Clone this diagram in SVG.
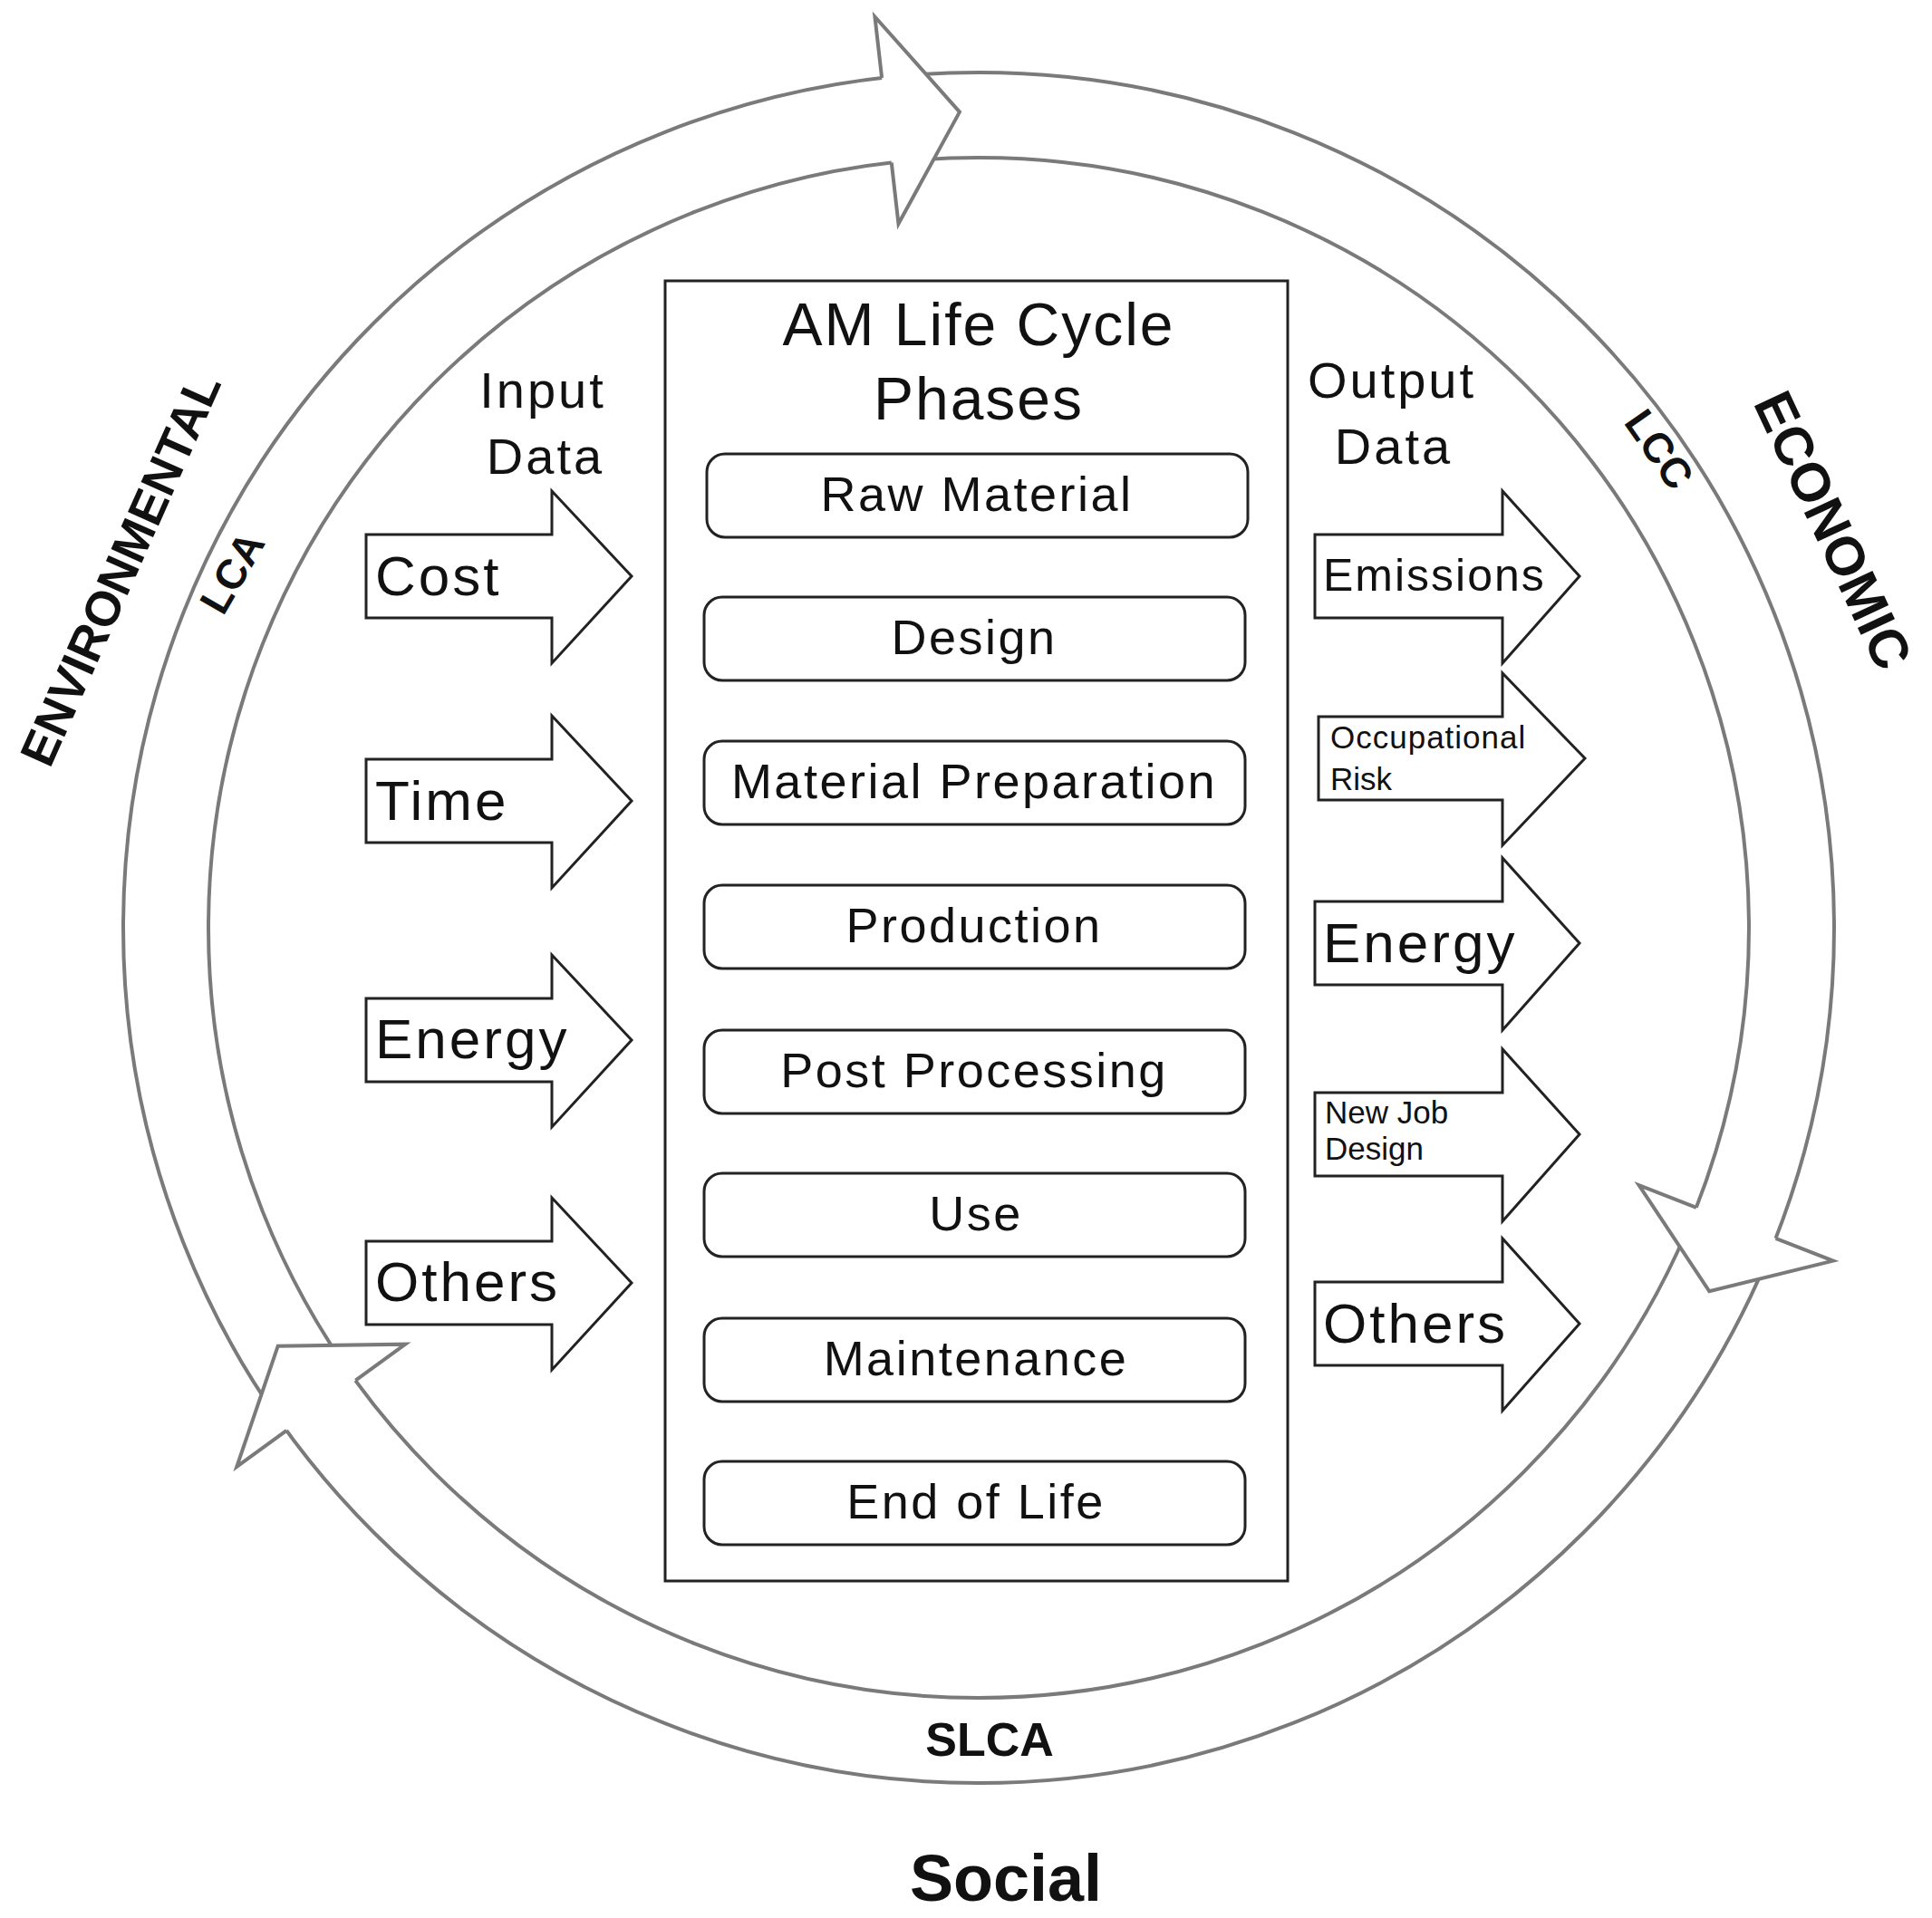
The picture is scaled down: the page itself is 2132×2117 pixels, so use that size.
<svg xmlns="http://www.w3.org/2000/svg" width="2132" height="2117" viewBox="0 0 2132 2117">
<style>
.ring{fill:none;stroke:#7a7a7a;stroke-width:4}
.hf{fill:#fff;stroke:none}
.hl{fill:none;stroke:#7a7a7a;stroke-width:4;stroke-linejoin:miter}
.box{fill:#fff;stroke:#222;stroke-width:3}
.ph{fill:#fff;stroke:#222;stroke-width:3}
.arr{fill:#fff;stroke:#222;stroke-width:3;stroke-linejoin:miter}
text{font-family:"Liberation Sans",Arial,sans-serif;fill:#111}
.pt{font-size:54px;text-anchor:middle;letter-spacing:2.5px}
.big{font-size:62px;letter-spacing:3px}
.sm{font-size:35px}
.lab{font-size:56px;text-anchor:middle;letter-spacing:3px}
.b{font-weight:bold;text-anchor:middle}
</style>
<defs>
<g id="head">
<polygon class="hf" points="0,-1012 81,-897 0,-782"/>
<polyline class="hl" points="0,-944 0,-1012 81,-897 0,-782 0,-850"/>
</g>
</defs>
<rect width="2132" height="2117" fill="#fff"/>
<g id="connectors">
<circle class="ring" cx="1080" cy="1024" r="944"/>
<circle class="ring" cx="1080" cy="1024" r="850"/>
<use href="#head" transform="translate(1080,1024) rotate(-6.5)"/>
<use href="#head" transform="translate(1080,1024) rotate(111.3)"/>
<use href="#head" transform="translate(1080,1024) rotate(234)"/>
</g>
<g id="labels">
<text class="b" font-size="54" transform="translate(150,636) rotate(-66)">ENVIRONMENTAL</text>
<text class="b" font-size="46" transform="translate(270,640) rotate(-60)">LCA</text>
<text class="b" font-size="60" transform="translate(2004,594) rotate(65)">ECONOMIC</text>
<text class="b" font-size="46" transform="translate(1818,505) rotate(55)">LCC</text>
<text class="b" font-size="52" x="1092" y="1938">SLCA</text>
<text class="b" font-size="72" x="1110" y="2098">Social</text>
<text class="lab" x="599" y="450">Input</text>
<text class="lab" x="602" y="523">Data</text>
<text class="lab" x="1536" y="439">Output</text>
<text class="lab" x="1538" y="512">Data</text>
</g>
<g id="lifecycle">
<rect class="box" x="734" y="310" width="687" height="1435"/>
<text x="1080" y="381" font-size="66" text-anchor="middle" letter-spacing="2">AM Life Cycle</text>
<text x="1080" y="463" font-size="66" text-anchor="middle" letter-spacing="2">Phases</text>
</g>
<g id="p1"><rect class="ph" x="780" y="501" width="597" height="92" rx="20"/><text class="pt" x="1078" y="564">Raw Material</text></g>
<g id="p2"><rect class="ph" x="777" y="659" width="597" height="92" rx="20"/><text class="pt" x="1075" y="722">Design</text></g>
<g id="p3"><rect class="ph" x="777" y="818" width="597" height="92" rx="20"/><text class="pt" x="1075" y="881">Material Preparation</text></g>
<g id="p4"><rect class="ph" x="777" y="977" width="597" height="92" rx="20"/><text class="pt" x="1075" y="1040">Production</text></g>
<g id="p5"><rect class="ph" x="777" y="1137" width="597" height="92" rx="20"/><text class="pt" x="1075" y="1200">Post Processing</text></g>
<g id="p6"><rect class="ph" x="777" y="1295" width="597" height="92" rx="20"/><text class="pt" x="1077" y="1358">Use</text></g>
<g id="p7"><rect class="ph" x="777" y="1455" width="597" height="92" rx="20"/><text class="pt" x="1077" y="1518">Maintenance</text></g>
<g id="p8"><rect class="ph" x="777" y="1613" width="597" height="92" rx="20"/><text class="pt" x="1077" y="1676">End of Life</text></g>
<g id="in-cost"><polygon class="arr" points="404,590 609,590 609,542 697,636 609,732 609,682 404,682"/><text class="big" x="414" y="657">Cost</text></g>
<g id="in-time"><polygon class="arr" points="404,838 609,838 609,790 697,884 609,980 609,930 404,930"/><text class="big" x="414" y="905">Time</text></g>
<g id="in-energy"><polygon class="arr" points="404,1102 609,1102 609,1054 697,1148 609,1244 609,1194 404,1194"/><text class="big" x="414" y="1168">Energy</text></g>
<g id="in-others"><polygon class="arr" points="404,1370 609,1370 609,1322 697,1416 609,1512 609,1462 404,1462"/><text class="big" x="414" y="1436">Others</text></g>
<g id="out-emissions"><polygon class="arr" points="1451,590 1658,590 1658,542 1743,636 1658,732 1658,682 1451,682"/><text x="1460" y="652" font-size="50" letter-spacing="2">Emissions</text></g>
<g id="out-risk"><polygon class="arr" points="1455,791 1658,791 1658,743 1749,837 1658,933 1658,883 1455,883"/><text class="sm" x="1468" y="826" letter-spacing="1">Occupational</text><text class="sm" x="1468" y="872">Risk</text></g>
<g id="out-energy"><polygon class="arr" points="1451,995 1658,995 1658,947 1743,1041 1658,1137 1658,1087 1451,1087"/><text class="big" x="1460" y="1062">Energy</text></g>
<g id="out-job"><polygon class="arr" points="1451,1206 1658,1206 1658,1158 1743,1252 1658,1348 1658,1298 1451,1298"/><text class="sm" x="1462" y="1240">New Job</text><text class="sm" x="1462" y="1280">Design</text></g>
<g id="out-others"><polygon class="arr" points="1451,1415 1658,1415 1658,1367 1743,1461 1658,1557 1658,1507 1451,1507"/><text class="big" x="1460" y="1482">Others</text></g>
</svg>
